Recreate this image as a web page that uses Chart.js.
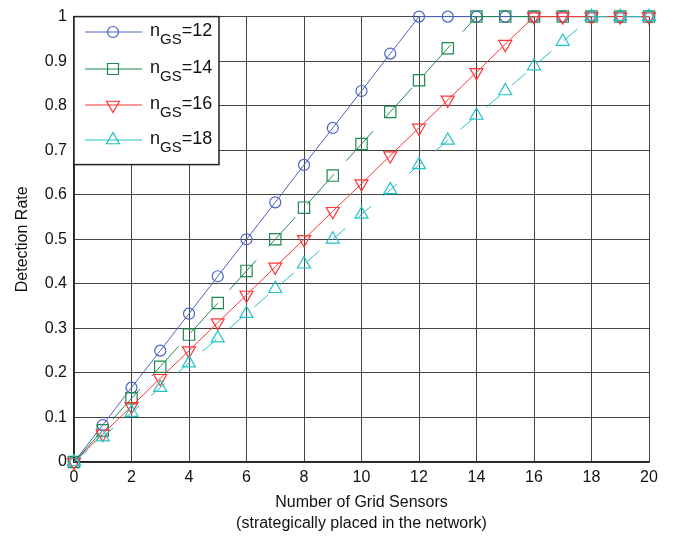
<!DOCTYPE html>
<html>
<head>
<meta charset="utf-8">
<script src="https://cdn.jsdelivr.net/npm/chart.js@4.4.1/dist/chart.umd.min.js"></script>
<style>
  html,body{margin:0;padding:0;background:#fff;}
  #wrap{width:689px;height:538px;position:relative;}
</style>
</head>
<body>
<div id="wrap"><canvas id="c" width="689" height="538"></canvas></div>
<script>
// x values: number of grid sensors
const sensors = [0,1,2,3,4,5,6,7,8,9,10,11,12,13,14,15,16,17,18,19,20];
// detection rate for each n_GS
const rate12 = [0,0.083,0.167,0.25,0.333,0.417,0.5,0.583,0.667,0.75,0.833,0.917,1,1,1,1,1,1,1,1,1];
const rate14 = [0,0.071,0.143,0.214,0.286,0.357,0.429,0.5,0.571,0.643,0.714,0.786,0.857,0.929,1,1,1,1,1,1,1];
const rate16 = [0,0.063,0.125,0.188,0.25,0.313,0.375,0.438,0.5,0.563,0.625,0.688,0.75,0.813,0.875,0.938,1,1,1,1,1];
const rate18 = [0,0.056,0.111,0.167,0.222,0.278,0.333,0.389,0.444,0.5,0.556,0.611,0.667,0.722,0.778,0.833,0.889,0.944,1,1,1];
const seriesNames = ['12','14','16','18'];
const xTicks = [0,2,4,6,8,10,12,14,16,18,20];

const FONT = '"Liberation Sans", Arial, sans-serif';
const cols = {blue:'#4a63c0', green:'#1e8a4e', red:'#ff3535', cyan:'#22c3c6'};

function pts(ys){ return sensors.map((x,i)=>({x, y: ys[i]})); }

const sets = [
  {label:seriesNames[0], data:pts(rate12), borderColor:cols.blue, pointStyle:'circle', pointRadius:5.5, rot:0, dash:[], order:3},
  {label:seriesNames[1], data:pts(rate14), borderColor:cols.green, pointStyle:'rect', pointRadius:8, rot:0, dash:[40,18], order:2},
  {label:seriesNames[2], data:pts(rate16), borderColor:cols.red, pointStyle:'triangle', pointRadius:7.5, rot:180, dash:[], order:1},
  {label:seriesNames[3], data:pts(rate18), borderColor:cols.cyan, pointStyle:'triangle', pointRadius:7.5, rot:0, dash:[18,16], order:0}
].map(s=>({
  label:s.label, data:s.data, borderColor:s.borderColor, backgroundColor:'rgba(0,0,0,0)',
  pointBorderColor:s.borderColor, pointBackgroundColor:'rgba(0,0,0,0)',
  pointStyle:s.pointStyle, pointRadius:s.pointRadius, pointRotation:s.rot,
  pointBorderWidth:1.2, borderWidth:1, borderDash:s.dash, order:s.order,
  tension:0, clip:false
}));

// MATLAB-like legend box with line + marker and subscripted text
const legendBox = {
  id:'legendBox',
  afterDatasetsDraw(chart){
    const {ctx, chartArea:a} = chart;
    const x0 = a.left, y0 = a.top, w = 145, h = 148;
    ctx.save();
    ctx.fillStyle = '#fff';
    ctx.fillRect(x0, y0, w, h);
    ctx.strokeStyle = '#222';
    ctx.lineWidth = 1.5;
    ctx.strokeRect(x0, y0, w, h);
    const rows = [32, 69, 105, 140];
    chart.data.datasets.forEach((ds, i)=>{
      const y = rows[i];
      ctx.strokeStyle = ds.borderColor;
      ctx.lineWidth = 1;
      ctx.setLineDash([]);
      ctx.beginPath(); ctx.moveTo(x0+11, y); ctx.lineTo(x0+68, y); ctx.stroke();
      const mx = x0+39;
      ctx.lineWidth = 1.2;
      ctx.beginPath();
      if(ds.pointStyle==='circle'){
        ctx.arc(mx, y, 5.5, 0, Math.PI*2);
      } else if(ds.pointStyle==='rect'){
        ctx.rect(mx-5.5, y-5.5, 11, 11);
      } else {
        const r = 7.5, s = ds.pointRotation===180 ? -1 : 1;
        ctx.moveTo(mx, y - s*r);
        ctx.lineTo(mx - r*0.866, y + s*r*0.5);
        ctx.lineTo(mx + r*0.866, y + s*r*0.5);
        ctx.closePath();
      }
      ctx.stroke();
      ctx.fillStyle = '#111';
      ctx.textBaseline = 'alphabetic';
      ctx.textAlign = 'left';
      let tx = x0+76;
      ctx.font = '18px '+FONT;
      ctx.fillText('n', tx, y+4);
      tx += ctx.measureText('n').width;
      ctx.font = '15px '+FONT;
      ctx.fillText('GS', tx, y+12);
      tx += ctx.measureText('GS').width;
      ctx.font = '18px '+FONT;
      ctx.fillText('='+ds.label, tx, y+4);
    });
    ctx.restore();
  }
};

new Chart(document.getElementById('c'), {
  type:'line',
  data:{datasets:sets},
  plugins:[legendBox],
  options:{
    responsive:false, animation:false,
    layout:{padding:{left:0, right:40, top:14, bottom:0}},
    plugins:{legend:{display:false}, tooltip:{enabled:false}},
    scales:{
      x:{
        type:'linear', min:0, max:20,
        afterFit(s){ s.height = 76; },
        afterBuildTicks(s){ s.ticks = xTicks.map(v=>({value:v})); },
        grid:{color:'#444', lineWidth:1, drawTicks:false},
        border:{color:'#222', width:1.5},
        ticks:{color:'#111', font:{family:FONT, size:16}, padding:6, maxRotation:0},
        title:{display:true, text:['Number of Grid Sensors','(strategically placed in the network)'],
          color:'#111', font:{family:FONT, size:16, lineHeight:1.3}, padding:{top:3}}
      },
      y:{
        type:'linear', min:0, max:1,
        afterFit(s){ s.width = 74; },
        grid:{color:'#444', lineWidth:1, drawTicks:false},
        border:{color:'#222', width:1.5},
        ticks:{stepSize:0.1, color:'#111', font:{family:FONT, size:16}, padding:7,
          callback:v=>{ const r = Math.round(v*10)/10; return r===0 ? '0' : r===1 ? '1' : r.toFixed(1); }},
        title:{display:true, text:'Detection Rate', color:'#111', font:{family:FONT, size:16}, padding:{top:13, bottom:0}}
      }
    }
  }
});
</script>
</body>
</html>
